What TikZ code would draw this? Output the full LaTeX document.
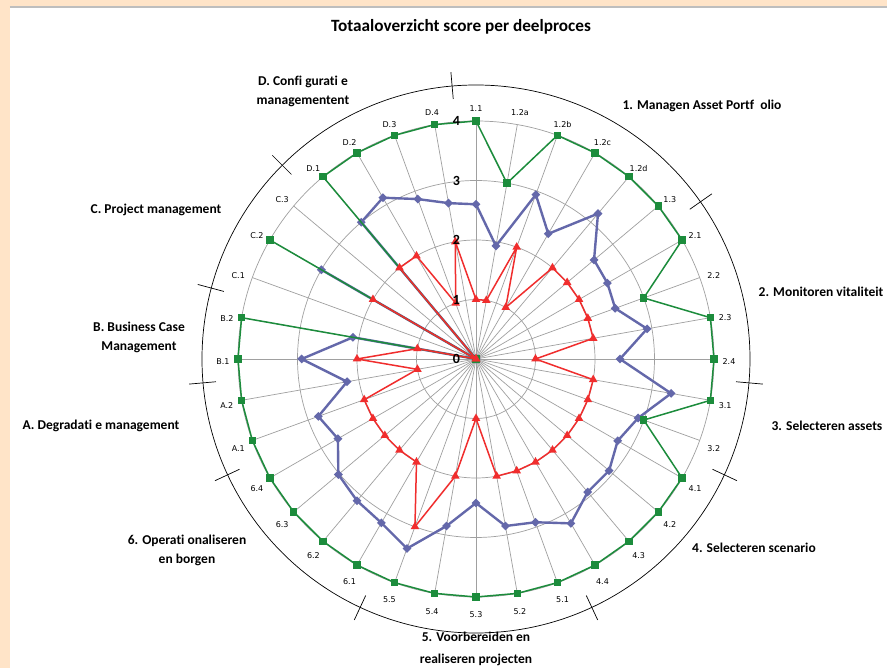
\documentclass[tikz,border=0pt]{standalone}
\usepackage{fontspec}
\setmainfont{Carlito}[Ligatures=NoCommon]
\newfontfamily\axisfont{DejaVu Sans}
\usetikzlibrary{shapes.geometric}

\definecolor{peach}{RGB}{255,228,200}
\definecolor{frameline}{RGB}{190,190,190}
\definecolor{gridgray}{RGB}{160,160,160}
\definecolor{sgreen}{RGB}{28,140,60}
\definecolor{sblue}{RGB}{100,104,170}
\definecolor{sred}{RGB}{240,45,45}

\begin{document}
\begin{tikzpicture}[x=1pt,y=1pt,
  gridline/.style={draw=gridgray, line width=0.7pt},
  rimline/.style={draw=black, line width=0.7pt},
  axislab/.style={font=\axisfont\fontsize{8}{9}\selectfont, inner sep=0pt, text=black},
  scorelab/.style={font=\bfseries\fontsize{14}{16}\selectfont, inner sep=0pt},
  catlab/.style={font=\bfseries\fontsize{13.5}{19}\selectfont, align=center, inner sep=0pt},
  titlelab/.style={font=\bfseries\fontsize{17.2}{20}\selectfont, inner sep=0pt},
  gline/.style={draw=sgreen, line width=1.5pt, line join=round},
  bline/.style={draw=sblue, line width=2.4pt, line join=round},
  rline/.style={draw=sred, line width=1.5pt, line join=round},
  gmark/.style={rectangle, fill=sgreen, minimum size=7.5pt, inner sep=0pt},
  bmark/.style={diamond, fill=sblue, minimum size=9pt, inner sep=0pt},
  rmark/.style={regular polygon, regular polygon sides=3, fill=sred, minimum size=10pt, inner sep=0pt},
]
\def\u{59.5}
\useasboundingbox (-476,-309) rectangle (411,359);
\clip (-476,-309) rectangle (411,359);

% page backdrop with tinted margin
\fill[peach] (-476,-309) rectangle (411,359);
\fill[white] (-466,-309) rectangle (411,351);
\draw[frameline, line width=1.5pt] (-466,351.8) -- (411,351.8);

% circular grid and spokes
\foreach \k in {1,...,4} \draw[gridline] (0,0) circle (\k*\u);
\foreach \i in {0,...,35} \draw[gridline] (0,0) -- ({90-10*\i}:4*\u);

% outer ring with section separators
\draw[rimline] (0,0) circle (274);
\foreach \t in {95,35,-5,-25,-65,-115,-155,-175,165,135}
  \draw[rimline] (\t:261) -- (\t:288);

% data points and spoke labels: label / green / blue / red
\foreach \lab/\g/\b/\r [count=\i from 0] in {
  1.1/4/2.6/1, 1.2a/3/1.93/1, 1.2b/4/2.94/2, 1.2c/4/2.43/1, 1.2d/4/3.19/2, 1.3/4/2.59/2,
  2.1/4/2.55/2, 2.2/3/2.49/2, 2.3/4/2.92/2, 2.4/4/2.42/1,
  3.1/4/3.33/2, 3.2/3/2.9/2,
  4.1/4/2.75/2, 4.2/4/2.92/2, 4.3/4/2.92/2, 4.4/4/3.19/2,
  5.1/4/2.92/2, 5.2/4/2.85/2, 5.3/4/2.42/1, 5.4/4/2.85/2, 5.5/4/3.39/3,
  6.1/4/3.18/2, 6.2/4/3.11/2, 6.3/4/3.02/2, 6.4/4/2.68/2,
  A.1/4/2.82/2, A.2/4/2.2/1, B.1/4/2.93/2, B.2/4/2.1/1,
  C.1/0/0/0, C.2/4/3/2, C.3/0/0/0,
  D.1/4/3/2, D.2/4/3.13/2, D.3/4/2.86/1, D.4/4/2.66/2}
{
  \pgfmathsetmacro\ang{90-10*\i}
  \coordinate (g\i) at (\ang:\g*\u);
  \coordinate (b\i) at (\ang:\b*\u);
  \coordinate (r\i) at (\ang:\r*\u);
  \node[axislab] (lab\i) at ([yshift=-3pt]\ang:253) {\lab};
}

% series polygons, drawn back to front
\draw[bline] (b0) \foreach \i in {1,...,35}{ -- (b\i)} -- cycle;
\foreach \i in {0,...,35} \node[bmark] (bm\i) at (b\i) {};
\draw[gline] (g0) \foreach \i in {1,...,35}{ -- (g\i)} -- cycle;
\foreach \i in {0,...,35} \node[gmark] (gm\i) at (g\i) {};
\draw[rline] (r0) \foreach \i in {1,...,35}{ -- (r\i)} -- cycle;
\foreach \i in {0,...,35} \node[rmark] (rm\i) at (r\i) {};

% scale values on the vertical spoke
\foreach \k in {0,...,4} \node[scorelab] (sc\k) at (-19.5,\k*\u) {\k};

% section captions
\node[titlelab] (title) at (-15,332) {Totaaloverzicht score per deelproces};
\node[catlab] (catD) at (-173,267.5) {D. Confi gurati e\\managementent};
\node[catlab] (cat1) at (226,253) {1. Managen Asset Portf\ \ olio};
\node[catlab] (cat2) at (345,67) {2. Monitoren vitaliteit};
\node[catlab] (cat3) at (351,-67) {3. Selecteren assets};
\node[catlab] (cat4) at (278,-189) {4. Selecteren scenario};
\node[catlab, anchor=north] (cat5) at (0,-273) {5. Voorbereiden en\\[3pt]realiseren projecten};
\node[catlab] (cat6) at (-289,-191) {6. Operati onaliseren\\en borgen};
\node[catlab] (catA) at (-375,-67) {A. Degradati e management};
\node[catlab] (catB) at (-337,22) {B. Business Case\\Management};
\node[catlab] (catC) at (-320,149) {C. Project management};
\end{tikzpicture}
\end{document}
